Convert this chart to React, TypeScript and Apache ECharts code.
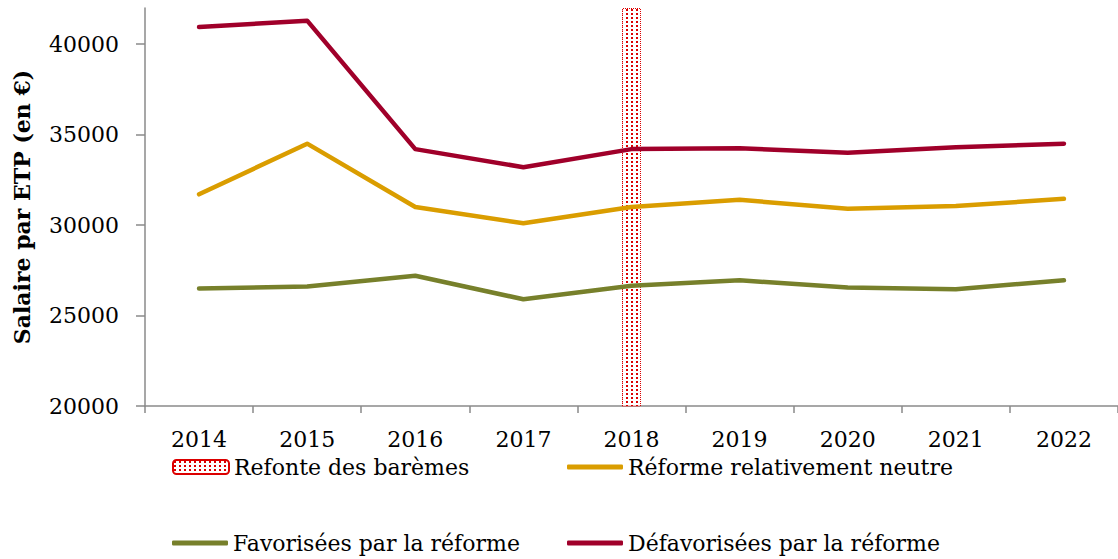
import React, { useEffect, useRef } from "react";
import * as echarts from "echarts";

const years = ["2014", "2015", "2016", "2017", "2018", "2019", "2020", "2021", "2022"];
const neutre = [31700, 34500, 31000, 30100, 31000, 31400, 30900, 31050, 31450];
const favorisees = [26500, 26600, 27200, 25900, 26650, 26950, 26550, 26450, 26950];
const defavorisees = [40950, 41300, 34200, 33200, 34200, 34250, 34000, 34300, 34500];
const refonte = [null, null, null, null, 42000, null, null, null, null];
const yTicks = [20000, 25000, 30000, 35000, 40000];

const FONT = "DejaVu Serif";

export default function App() {
  const ref = useRef<HTMLDivElement>(null);
  useEffect(() => {
    if (!ref.current) return;
    const chart = echarts.init(ref.current, null, { renderer: "svg" });

    const cv = document.createElement("canvas");
    cv.width = 5;
    cv.height = 4;
    const ctx = cv.getContext("2d")!;
    ctx.fillStyle = "#ffffff";
    ctx.fillRect(0, 0, 5, 4);
    ctx.fillStyle = "#dc0000";
    ctx.fillRect(1, 1, 2, 2);
    const pattern: any = { image: cv, repeat: "repeat" };

    const legendBase = {
      orient: "horizontal",
      itemWidth: 56,
      itemGap: 10,
      textStyle: { fontFamily: FONT, fontSize: 22, color: "#000" },
      padding: 0,
    };

    chart.setOption({
      animation: false,
      textStyle: { fontFamily: FONT },
      grid: { left: 145, right: 0, top: 8, bottom: 153, containLabel: false, outerBoundsMode: "none" },
      xAxis: {
        type: "category",
        data: years,
        boundaryGap: true,
        axisLine: { lineStyle: { color: "#8a8a8a", width: 1.5 } },
        axisTick: { show: true, length: 7, alignWithLabel: false, lineStyle: { color: "#8a8a8a", width: 1.5 } },
        axisLabel: { fontFamily: FONT, fontSize: 22, color: "#000", margin: 22 },
        splitLine: { show: false },
      },
      yAxis: {
        type: "value",
        min: 20000,
        max: 42000,
        interval: 5000,
        name: "Salaire par ETP (en €)",
        nameLocation: "middle",
        nameGap: 112,
        nameRotate: 90,
        nameTextStyle: { fontFamily: FONT, fontSize: 22, fontWeight: "bold", color: "#000" },
        axisLine: { show: true, lineStyle: { color: "#8a8a8a", width: 1.5 } },
        axisTick: { show: true, length: 9, customValues: yTicks, lineStyle: { color: "#8a8a8a", width: 1.5 } },
        axisLabel: {
          fontFamily: FONT,
          fontSize: 22,
          color: "#000",
          margin: 26,
          customValues: yTicks,
          formatter: (v: number) => String(v),
        },
        splitLine: { show: false },
      },
      legend: [
        { ...legendBase, left: 172, top: 456, itemHeight: 14, data: ["Refonte des barèmes"] },
        { ...legendBase, left: 567, top: 456, itemHeight: 5, icon: "roundRect", data: ["Réforme relativement neutre"] },
        { ...legendBase, left: 172, top: 532, itemHeight: 5, icon: "roundRect", data: ["Favorisées par la réforme"] },
        { ...legendBase, left: 567, top: 532, itemHeight: 5, icon: "roundRect", data: ["Défavorisées par la réforme"] },
      ],
      series: [
        {
          name: "Refonte des barèmes",
          type: "bar",
          data: refonte,
          barWidth: 19,
          clip: true,
          itemStyle: { color: pattern, borderColor: "#dc0000", borderWidth: 1, borderType: "dotted" },
        },
        {
          name: "Réforme relativement neutre",
          type: "line",
          data: neutre,
          symbol: "none",
          lineStyle: { color: "#da9d00", width: 4.5, cap: "round", join: "round" },
          itemStyle: { color: "#da9d00" },
        },
        {
          name: "Favorisées par la réforme",
          type: "line",
          data: favorisees,
          symbol: "none",
          lineStyle: { color: "#77802b", width: 4.5, cap: "round", join: "round" },
          itemStyle: { color: "#77802b" },
        },
        {
          name: "Défavorisées par la réforme",
          type: "line",
          data: defavorisees,
          symbol: "none",
          lineStyle: { color: "#a0002a", width: 4.5, cap: "round", join: "round" },
          itemStyle: { color: "#a0002a" },
        },
      ],
    });
    return () => chart.dispose();
  }, []);
  return <div ref={ref} style={{ width: 1118, height: 559, position: "absolute", left: 0, top: 0 }} />;
}
